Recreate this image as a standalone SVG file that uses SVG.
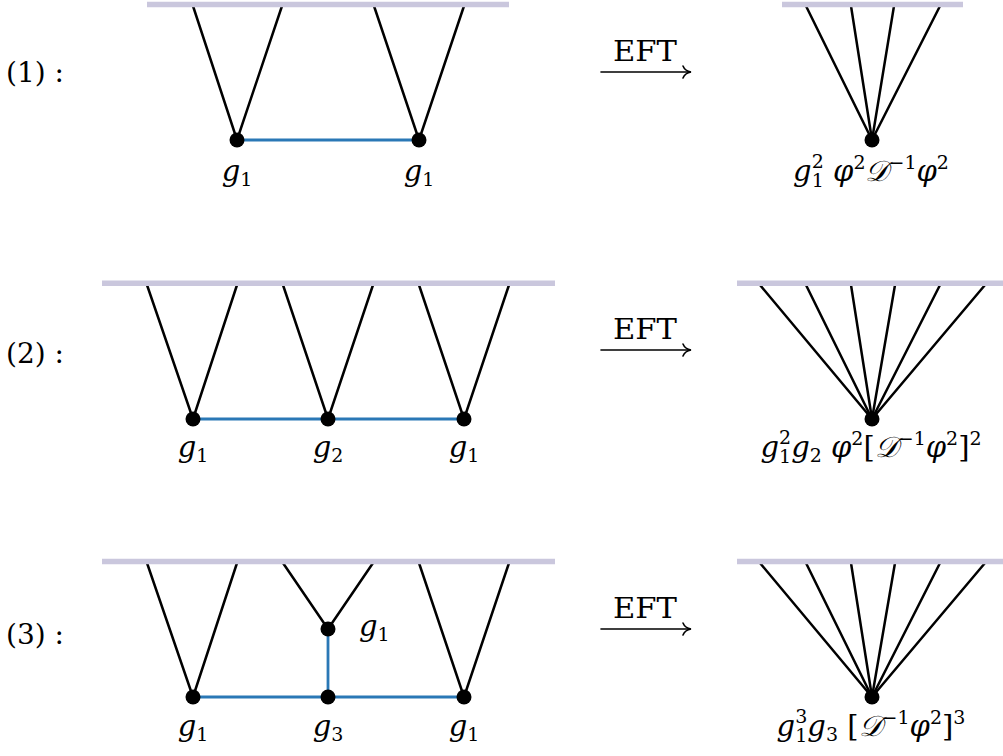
<svg xmlns="http://www.w3.org/2000/svg" width="1003" height="756" viewBox="0 0 1003 756">
<style>
.bar{stroke:#cac7dd;stroke-width:5.5;fill:none}
.leg{stroke:#000;stroke-width:2.5;fill:none;stroke-linecap:round}
.prop{stroke:#2a78b6;stroke-width:2.8;fill:none}
.dot{fill:#000}
.t{font-family:"DejaVu Serif","Liberation Serif",serif;font-size:28px;fill:#000}
.m{font-family:"DejaVu Serif","Liberation Serif",serif;font-size:29px;fill:#000}
.i{font-style:italic}
.s{font-size:19px;font-style:normal}
.arr{stroke:#000;stroke-width:1.6;fill:none;stroke-linecap:round}
</style>
<defs>
<g id="eftarrow">
<line class="arr" x1="0" y1="0" x2="89" y2="0"/>
<path class="arr" d="M82,-6 Q84,-1 90,0 Q84,1 82,6"/>
</g>
</defs>
<g id="row-labels">
<text class="t" x="6" y="82">(1) :</text>
<text class="t" x="6" y="363">(2) :</text>
<text class="t" x="6" y="644">(3) :</text>
</g>
<g id="connectors">
<line class="leg" x1="193" y1="6" x2="237" y2="140"/>
<line class="leg" x1="282" y1="6" x2="237" y2="140"/>
<line class="leg" x1="374" y1="6" x2="419" y2="140"/>
<line class="leg" x1="464" y1="6" x2="419" y2="140"/>
<line class="prop" x1="237" y1="140" x2="419" y2="140"/>
<line class="leg" x1="806" y1="6" x2="872" y2="140"/>
<line class="leg" x1="851" y1="6" x2="872" y2="140"/>
<line class="leg" x1="894" y1="6" x2="872" y2="140"/>
<line class="leg" x1="940" y1="6" x2="872" y2="140"/>
<line class="leg" x1="147" y1="285" x2="193" y2="419"/>
<line class="leg" x1="237" y1="285" x2="193" y2="419"/>
<line class="leg" x1="283" y1="285" x2="328" y2="419"/>
<line class="leg" x1="373" y1="285" x2="328" y2="419"/>
<line class="leg" x1="419" y1="285" x2="464" y2="419"/>
<line class="leg" x1="509" y1="285" x2="464" y2="419"/>
<line class="prop" x1="193" y1="419" x2="464" y2="419"/>
<line class="leg" x1="760" y1="285" x2="872" y2="419"/>
<line class="leg" x1="806" y1="285" x2="872" y2="419"/>
<line class="leg" x1="851" y1="285" x2="872" y2="419"/>
<line class="leg" x1="895" y1="285" x2="872" y2="419"/>
<line class="leg" x1="940" y1="285" x2="872" y2="419"/>
<line class="leg" x1="985" y1="285" x2="872" y2="419"/>
<line class="leg" x1="147" y1="563" x2="193" y2="697"/>
<line class="leg" x1="237" y1="563" x2="193" y2="697"/>
<line class="leg" x1="283" y1="563" x2="328" y2="629"/>
<line class="leg" x1="373" y1="563" x2="328" y2="629"/>
<line class="leg" x1="419" y1="563" x2="464" y2="697"/>
<line class="leg" x1="509" y1="563" x2="464" y2="697"/>
<line class="prop" x1="193" y1="697" x2="464" y2="697"/>
<line class="prop" x1="328" y1="629" x2="328" y2="697"/>
<line class="leg" x1="760" y1="563" x2="872" y2="697"/>
<line class="leg" x1="806" y1="563" x2="872" y2="697"/>
<line class="leg" x1="851" y1="563" x2="872" y2="697"/>
<line class="leg" x1="895" y1="563" x2="872" y2="697"/>
<line class="leg" x1="940" y1="563" x2="872" y2="697"/>
<line class="leg" x1="985" y1="563" x2="872" y2="697"/>
<use href="#eftarrow" x="601" y="72"/>
<use href="#eftarrow" x="601" y="350"/>
<use href="#eftarrow" x="601" y="629"/>
</g>
<g id="boundary-1L"><line class="bar" x1="147" y1="4.5" x2="509" y2="4.5"/></g>
<g id="boundary-1R"><line class="bar" x1="782" y1="4.5" x2="963" y2="4.5"/></g>
<g id="boundary-2L"><line class="bar" x1="102" y1="283.3" x2="555" y2="283.3"/></g>
<g id="boundary-2R"><line class="bar" x1="737" y1="283.3" x2="1007" y2="283.3"/></g>
<g id="boundary-3L"><line class="bar" x1="102" y1="561.5" x2="555" y2="561.5"/></g>
<g id="boundary-3R"><line class="bar" x1="737" y1="561.5" x2="1007" y2="561.5"/></g>
<g id="eft-labels">
<text class="t" x="613" y="61" textLength="64" lengthAdjust="spacingAndGlyphs">EFT</text>
<text class="t" x="613" y="339" textLength="64" lengthAdjust="spacingAndGlyphs">EFT</text>
<text class="t" x="613" y="618" textLength="64" lengthAdjust="spacingAndGlyphs">EFT</text>
</g>
<g id="v1a"><circle class="dot" cx="237" cy="140" r="7.5"/><text class="m" x="237" y="181" text-anchor="middle"><tspan class="i">g</tspan><tspan class="s" dy="5">1</tspan></text></g>
<g id="v1b"><circle class="dot" cx="419" cy="140" r="7.5"/><text class="m" x="419" y="181" text-anchor="middle"><tspan class="i">g</tspan><tspan class="s" dy="5">1</tspan></text></g>
<g id="v1eft"><circle class="dot" cx="872" cy="140" r="7.5"/><text class="m" x="871" y="181" text-anchor="middle"><tspan class="i">g</tspan><tspan class="s" dy="-13">2</tspan><tspan class="s" dx="-12" dy="19">1</tspan><tspan class="i" dy="-6"> φ</tspan><tspan class="s" dy="-12">2</tspan><tspan class="i" dy="12">𝒟</tspan><tspan class="s" dy="-12">−1</tspan><tspan class="i" dy="12">φ</tspan><tspan class="s" dy="-12">2</tspan></text></g>
<g id="v2a"><circle class="dot" cx="193" cy="419" r="7.5"/><text class="m" x="193" y="457" text-anchor="middle"><tspan class="i">g</tspan><tspan class="s" dy="5">1</tspan></text></g>
<g id="v2b"><circle class="dot" cx="328" cy="419" r="7.5"/><text class="m" x="328" y="457" text-anchor="middle"><tspan class="i">g</tspan><tspan class="s" dy="5">2</tspan></text></g>
<g id="v2c"><circle class="dot" cx="464" cy="419" r="7.5"/><text class="m" x="464" y="457" text-anchor="middle"><tspan class="i">g</tspan><tspan class="s" dy="5">1</tspan></text></g>
<g id="v2eft"><circle class="dot" cx="872" cy="419" r="7.5"/><text class="m" x="871" y="457" text-anchor="middle"><tspan class="i">g</tspan><tspan class="s" dy="-13">2</tspan><tspan class="s" dx="-12" dy="19">1</tspan><tspan class="i" dy="-6">g</tspan><tspan class="s" dy="5">2</tspan><tspan class="i" dy="-5"> φ</tspan><tspan class="s" dy="-12">2</tspan><tspan dy="12">[</tspan><tspan class="i">𝒟</tspan><tspan class="s" dy="-12">−1</tspan><tspan class="i" dy="12">φ</tspan><tspan class="s" dy="-12">2</tspan><tspan dy="12">]</tspan><tspan class="s" dy="-12">2</tspan></text></g>
<g id="v3a"><circle class="dot" cx="193" cy="697" r="7.5"/><text class="m" x="193" y="736" text-anchor="middle"><tspan class="i">g</tspan><tspan class="s" dy="5">1</tspan></text></g>
<g id="v3b"><circle class="dot" cx="328" cy="697" r="7.5"/><text class="m" x="328" y="736" text-anchor="middle"><tspan class="i">g</tspan><tspan class="s" dy="5">3</tspan></text></g>
<g id="v3c"><circle class="dot" cx="464" cy="697" r="7.5"/><text class="m" x="464" y="736" text-anchor="middle"><tspan class="i">g</tspan><tspan class="s" dy="5">1</tspan></text></g>
<g id="v3top"><circle class="dot" cx="328" cy="629" r="7.5"/><text class="m" x="359" y="636"><tspan class="i">g</tspan><tspan class="s" dy="5">1</tspan></text></g>
<g id="v3eft"><circle class="dot" cx="872" cy="697" r="7.5"/><text class="m" x="871" y="736" text-anchor="middle"><tspan class="i">g</tspan><tspan class="s" dy="-13">3</tspan><tspan class="s" dx="-12" dy="19">1</tspan><tspan class="i" dy="-6">g</tspan><tspan class="s" dy="5">3</tspan><tspan dy="-5"> [</tspan><tspan class="i">𝒟</tspan><tspan class="s" dy="-12">−1</tspan><tspan class="i" dy="12">φ</tspan><tspan class="s" dy="-12">2</tspan><tspan dy="12">]</tspan><tspan class="s" dy="-12">3</tspan></text></g>
</svg>
